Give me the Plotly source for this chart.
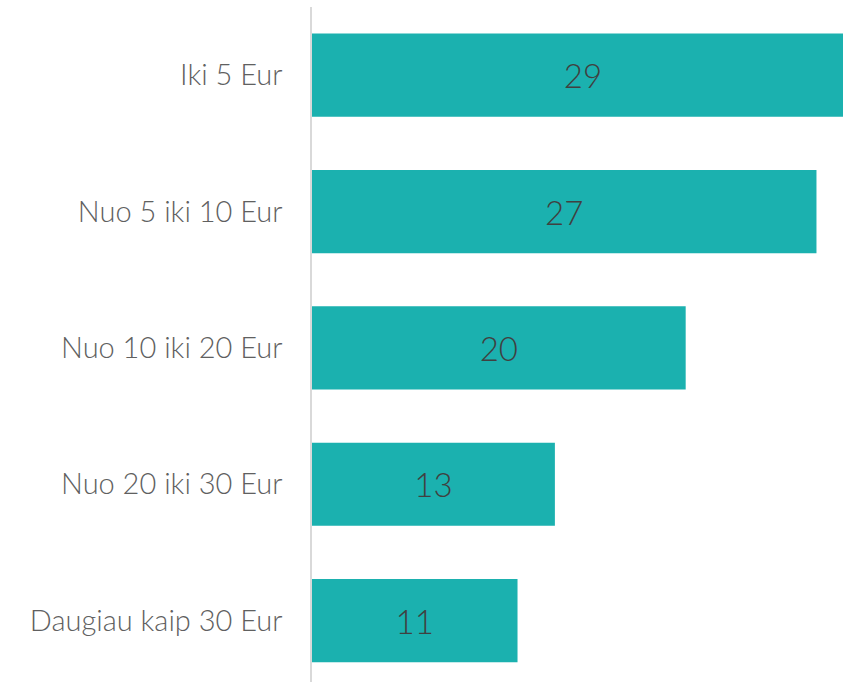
import plotly.graph_objects as go

categories = ["Iki 5 Eur", "Nuo 5 iki 10 Eur", "Nuo 10 iki 20 Eur", "Nuo 20 iki 30 Eur", "Daugiau kaip 30 Eur"]
values = [29, 27, 20, 13, 11]

FONT = "Segoe UI Light, Lato, Open Sans, sans-serif"

fig = go.Figure(go.Bar(
    y=categories,
    x=values,
    orientation="h",
    marker=dict(color="#1BB1AF", line=dict(width=0)),
    texttemplate="%{x:.0f}",
    textposition="inside",
    insidetextanchor="middle",
    textangle=0,
    textfont=dict(family=FONT, size=33, color="#404040", weight=300),
    cliponaxis=True,
    hoverinfo="skip",
))

fig.update_layout(
    width=843, height=682,
    margin=dict(l=312, r=0, t=7, b=0),
    paper_bgcolor="white", plot_bgcolor="white",
    bargap=0.39,
    showlegend=False,
    xaxis=dict(range=[0, 28.42], visible=False, showgrid=False, zeroline=False, fixedrange=True),
    yaxis=dict(
        type="category",
        categoryorder="array", categoryarray=categories,
        range=[4.45, -0.5],
        showgrid=False, zeroline=False,
        showline=True, linecolor="#D9D9D9", linewidth=1.5,
        ticks="", ticklabelstandoff=22,
        tickfont=dict(family=FONT, size=29, color="#606060", weight=300),
        fixedrange=True,
    ),
    uniformtext=dict(mode=False),
)

fig.write_html(
    "out.html",
    config={"displayModeBar": False},
    post_script="document.body.style.margin='0';document.body.style.padding='0';",
)
